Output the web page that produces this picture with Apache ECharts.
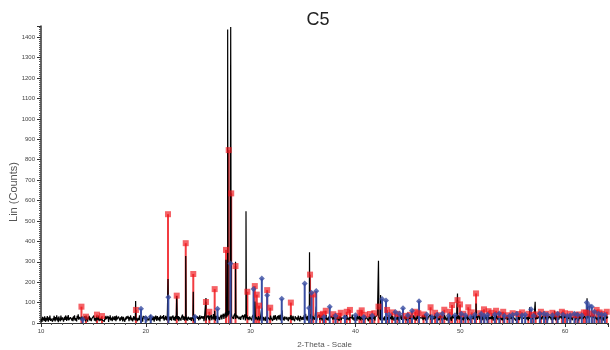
<!DOCTYPE html>
<html>
<head>
<meta charset="utf-8">
<script src="https://cdn.jsdelivr.net/npm/echarts@6/dist/echarts.min.js"></script>
<style>
  html, body { margin: 0; padding: 0; background: #fff; }
  #chart { width: 610px; height: 350px; }
</style>
</head>
<body>
<div id="chart"></div>
<script>
// Diffractogram of sample C5: measured counts plus two phase reference patterns.

// Background counts, 0.05 degree steps starting at 10.00 degrees 2-theta (one row per degree)
const scanStart = 10.0;
const scanStep = 0.05;
const backgroundCounts = [
  8,21,5,30,14,26,9,33,18,6,25,12,34,19,7,28,15,36,10,22,
  17,31,6,24,13,35,20,8,29,16,38,11,27,4,32,19,23,9,36,14,
  11,27,33,7,20,30,15,37,24,10,31,17,39,13,22,6,28,19,34,12,
  26,9,33,18,38,12,24,30,8,35,21,42,16,11,29,36,20,14,31,23,
  10,28,17,34,22,8,37,15,25,7,30,19,35,12,26,33,9,21,29,16,
  19,36,11,25,30,8,33,17,28,14,37,9,24,32,12,27,35,15,22,10,
  24,7,31,16,35,20,27,11,34,5,29,18,38,13,21,26,9,33,17,28,
  14,34,21,9,36,18,27,12,31,22,40,10,28,17,33,24,8,30,19,25,
  6,27,15,33,20,11,35,24,9,29,18,37,13,26,31,8,23,34,16,30,
  12,28,19,36,9,25,33,14,38,21,11,30,17,27,6,35,22,13,32,26,
  15,31,8,27,20,35,12,24,17,38,9,29,22,14,33,26,7,31,18,36,
  22,10,34,17,27,13,30,8,37,21,25,14,32,19,39,11,28,16,35,23,
  13,29,20,36,9,31,24,15,33,11,27,19,37,14,22,30,10,35,18,25,
  28,16,34,9,30,21,38,12,27,19,41,15,24,33,11,29,18,36,13,26,
  11,30,22,37,16,27,35,10,29,19,32,8,26,38,14,24,31,17,34,20,
  30,13,26,37,19,28,10,34,22,15,33,9,27,20,36,12,25,31,16,38,
  18,35,12,29,23,40,14,31,21,44,16,27,33,11,35,20,28,38,17,30,
  35,15,28,21,40,18,33,26,45,20,37,29,50,24,42,31,55,38,48,60,
  62,44,38,50,33,26,42,20,36,31,47,19,28,40,23,35,30,44,18,27,
  32,15,28,36,20,39,17,30,26,42,13,33,24,38,18,29,35,14,31,22,
  20,35,13,30,27,40,11,32,25,37,16,29,38,21,14,33,27,36,12,30,
  27,38,18,32,12,29,35,22,10,31,24,40,16,28,37,19,33,14,36,25,
  19,30,10,26,36,15,24,39,18,28,12,34,21,38,16,27,40,13,31,23,
  21,34,15,28,11,32,26,38,17,30,23,36,9,29,35,18,27,39,14,31,
  14,35,20,29,9,33,25,40,17,28,12,36,23,31,8,34,26,41,15,29,
  31,16,37,23,28,45,18,32,11,35,24,39,14,30,42,20,27,36,13,33,
  24,38,16,30,21,34,11,28,36,19,27,41,15,32,22,37,12,29,35,18,
  29,13,33,22,39,16,26,35,12,31,20,37,24,15,34,28,40,17,30,23,
  19,36,12,27,32,17,38,21,29,10,33,24,39,14,26,35,18,30,22,37,
  34,18,25,39,15,30,22,36,13,28,37,19,31,24,41,16,27,33,11,29,
  17,33,24,11,37,20,31,16,35,25,13,29,38,21,30,15,34,26,40,19,
  13,30,21,38,23,9,33,26,18,36,28,14,31,39,20,25,35,12,29,37,
  22,28,40,49,35,28,21,32,14,27,36,17,30,24,38,12,33,26,20,35,
  37,16,29,23,34,12,31,25,20,38,15,33,27,40,11,30,22,36,18,28,
  17,32,25,10,36,21,28,39,15,30,23,37,13,31,26,40,19,33,11,27,
  26,13,34,21,29,37,19,25,11,33,22,38,16,30,24,35,12,28,39,20,
  22,38,15,27,35,18,30,23,36,14,31,19,40,26,12,33,24,37,17,29,
  31,20,27,40,16,33,24,12,34,28,18,37,22,30,14,35,25,39,13,27,
  14,35,25,21,37,13,29,32,19,27,38,15,31,23,36,11,28,34,20,30,
  36,18,28,10,33,23,40,24,15,31,27,37,12,29,35,19,26,38,16,32,
  20,29,38,16,26,34,13,30,25,37,18,32,22,39,14,28,35,21,27,12,
  12,32,22,35,27,18,39,20,28,11,34,24,37,15,30,26,40,17,31,23,
  34,24,14,36,27,17,31,21,38,26,13,33,23,39,16,29,35,19,30,25,
  19,37,26,12,30,23,35,16,29,40,21,33,14,27,38,18,31,24,36,15,
  27,13,33,21,36,18,27,10,32,24,15,38,22,30,12,35,26,20,39,17,
  15,38,26,30,20,35,12,28,22,34,17,31,37,14,29,24,40,19,33,25,
  37,21,25,14,33,24,39,18,30,28,12,35,20,27,38,16,31,23,36,19,
  11,31,23,35,17,28,38,20,26,13,33,22,37,15,29,36,18,30,25,40,
  33,22,27,40,16,30,25,12,36,23,19,34,28,38,14,31,21,37,17,29,
  19,34,13,29,37,22,26,32,15,38,24,30,17,36,21,33,11,28,39,25,
  27,16,36,24,30,10,33,21,27,39,18,31,23,35,14,29,37,20,32,26,
  14,35,25,19,31,28,12,37,22,26,34,17,30,39,20,27,15,33,24,36,
  34,18,29,40,23,32,45,27,35,21,38,26,31,17,36,24,41,19,30,28,
  25,37,14,30,28,19,33,23,36,16,31,26,39,12,29,35,20,27,38,22,
  28,20,31
];

// Measured diffraction peaks: [2-theta, counts]
const peakPositions = [19.03, 22.12, 22.95, 23.81, 24.53, 25.74, 26.57, 27.65, 27.81, 28.10, 28.56, 29.56, 30.40, 31.07, 33.00, 35.62, 36.26, 42.20, 42.40, 49.74, 51.51, 56.62, 57.15, 59.00, 62.10];
const peakCounts    = [108,   215,   132,   328,   153,   122,   60,    310,   1438,  1450,  300,   548,   105,   75,    62,    346,   80,    305,   137,   145,   95,    77,    104,   60,    121];

// Reference phase 1 (red squares)
const phase1Positions = [
  13.86, 14.29, 15.34, 15.82, 19.06, 22.12, 22.95, 23.81, 24.53, 25.74, 26.06, 26.57, 27.65, 27.91, 28.15, 28.56,
  29.69, 30.40, 30.59, 30.80, 31.58, 31.87, 33.84, 35.67, 35.98, 36.62, 36.90, 37.17, 37.89, 38.30, 38.60, 39.17,
  39.48, 40.39, 40.60, 40.90, 41.39, 41.80, 42.20, 43.02, 43.50, 44.00, 44.80, 45.20, 45.70, 46.00, 46.50, 47.17,
  47.60, 48.10, 48.48, 49.00, 49.22, 49.74, 49.98, 50.30, 50.77, 51.10, 51.51, 51.90, 52.27, 52.70, 53.00, 53.42,
  53.80, 54.10, 54.50, 55.00, 55.54, 55.90, 56.50, 56.90, 57.20, 57.70, 58.20, 58.79, 59.20, 59.70, 60.00, 60.50,
  61.00, 61.30, 61.80, 62.00, 62.60, 63.02, 63.30, 63.50, 63.98
];
const phase1Counts = [
  80,    31,    41,    34,    64,    533,   134,   391,   240,   103,   55,    166,   358,   847,   635,   279,
  153,   181,   139,   85,    161,   75,    100,   237,   140,   39,    45,    60,    43,    35,    50,    55,
  64,    50,    62,    40,    44,    48,    80,    64,    52,    45,    35,    40,    55,    48,    42,    77,
  50,    38,    65,    55,    88,    112,   91,    45,    77,    52,    145,   48,    67,    58,    50,    60,
  40,    55,    38,    48,    44,    52,    45,    40,    42,    55,    45,    50,    42,    55,    48,    45,
  38,    42,    52,    50,    46,    64,    52,    45,    55
];

// Reference phase 2 (blue diamonds)
const phase2Positions = [
  13.98, 19.54, 19.99, 20.47, 22.15, 24.69, 26.84, 28.08, 30.28, 31.07, 31.58, 32.97, 35.16, 35.57, 35.81, 36.26,
  37.00, 37.55, 38.10, 39.00, 40.00, 40.80, 41.60, 42.54, 42.92, 43.20, 43.81, 44.20, 44.54, 45.00, 45.40, 46.07,
  46.80, 47.30, 47.80, 48.30, 48.90, 49.50, 50.10, 50.50, 51.00, 51.40, 52.00, 52.30, 52.60, 53.30, 53.73, 54.20,
  54.70, 55.00, 55.40, 55.90, 56.20, 56.76, 57.00, 57.60, 58.00, 58.30, 58.80, 59.30, 59.80, 60.20, 60.50, 60.90,
  61.20, 61.60, 62.07, 62.30, 62.55, 62.80, 63.20, 63.50, 63.80
];
const phase2Counts = [
  18,    70,    24,    31,    126,   31,    70,    292,   166,   218,   136,   119,   193,   73,    148,   157,
  30,    80,    35,    28,    38,    30,    35,    117,   110,   40,    54,    45,    72,    38,    60,    107,
  42,    30,    40,    45,    35,    38,    45,    38,    30,    40,    45,    36,    40,    42,    47,    36,
  34,    40,    45,    38,    40,    67,    36,    45,    45,    40,    38,    45,    40,    34,    38,    45,
  40,    38,    100,   85,    80,    55,    45,    42,    40
];

// Axis settings
const xMin = 10, xMax = 64.1, xInterval = 10;
const yMin = 0, yMax = 1455, yInterval = 100;

// Build the measured scan: background samples merged with the peak samples, sorted by angle
const scan = backgroundCounts.map((c, i) => [+(scanStart + i * scanStep).toFixed(2), c]);
peakPositions.forEach((p, i) => scan.push([p, peakCounts[i]]));
scan.sort((a, b) => a[0] - b[0]);

const phase1 = phase1Positions.map((p, i) => [p, phase1Counts[i]]);
const phase2 = phase2Positions.map((p, i) => [p, phase2Counts[i]]);

const red = 'rgba(240,26,32,0.85)';
const blue = '#3a4ea3';
const labelFont = 'Liberation Sans, Arial, sans-serif';

const chart = echarts.init(document.getElementById('chart'), null, { renderer: 'canvas' });
chart.setOption({
  animation: false,
  backgroundColor: '#fff',
  title: {
    text: 'C5',
    left: 313,
    textAlign: 'center',
    top: 6,
    textStyle: { fontFamily: labelFont, fontSize: 18, fontWeight: 'normal', color: '#222' }
  },
  graphic: [{
    type: 'text',
    x: 14,
    y: 192,
    rotation: Math.PI / 2,
    style: {
      text: 'Lin (Counts)',
      fontFamily: labelFont,
      fontSize: 11,
      fill: '#555',
      align: 'center',
      verticalAlign: 'middle'
    }
  }],
  grid: { left: 41, right: 2, top: 26, bottom: 27, containLabel: false, outerBoundsMode: 'none' },
  xAxis: {
    type: 'value',
    min: xMin, max: xMax, interval: xInterval,
    name: '2-Theta - Scale',
    nameLocation: 'middle',
    nameGap: 18,
    nameTextStyle: { fontFamily: labelFont, fontSize: 8, color: '#555' },
    axisLine: { show: true, onZero: false, lineStyle: { color: '#333', width: 1 } },
    axisTick: { show: true, length: 4, lineStyle: { color: '#333' } },
    minorTick: { show: true, splitNumber: 10, length: 2, lineStyle: { color: '#555' } },
    axisLabel: { fontFamily: labelFont, fontSize: 6, color: '#444', margin: 5, showMaxLabel: false },
    splitLine: { show: false }
  },
  yAxis: {
    type: 'value',
    min: yMin, max: yMax, interval: yInterval,
    axisLine: { show: true, lineStyle: { color: '#333', width: 1.5 } },
    axisTick: { show: true, length: 4, lineStyle: { color: '#333' } },
    minorTick: { show: true, splitNumber: 10, length: 2, lineStyle: { color: '#555' } },
    axisLabel: {
      fontFamily: labelFont, fontSize: 6, color: '#444', margin: 6, showMaxLabel: false,
      formatter: v => String(v)
    },
    splitLine: { show: false }
  },
  series: [
    {
      name: 'phase1 sticks',
      type: 'bar',
      data: phase1,
      barWidth: 2,
      barGap: '-100%',
      itemStyle: { color: red },
      z: 1
    },
    {
      name: 'scan',
      type: 'line',
      data: scan,
      symbol: 'none',
      lineStyle: { color: '#000', width: 1.2 },
      z: 2
    },
    {
      name: 'phase2 sticks',
      type: 'bar',
      data: phase2,
      barWidth: 2,
      barGap: '-100%',
      itemStyle: { color: blue },
      z: 3
    },
    {
      name: 'phase1 marks',
      type: 'scatter',
      data: phase1,
      symbol: 'rect',
      symbolSize: 6,
      itemStyle: { color: red },
      z: 4
    },
    {
      name: 'phase2 marks',
      type: 'scatter',
      data: phase2,
      symbol: 'diamond',
      symbolSize: 6,
      itemStyle: { color: blue },
      z: 5
    }
  ]
});
</script>
</body>
</html>
